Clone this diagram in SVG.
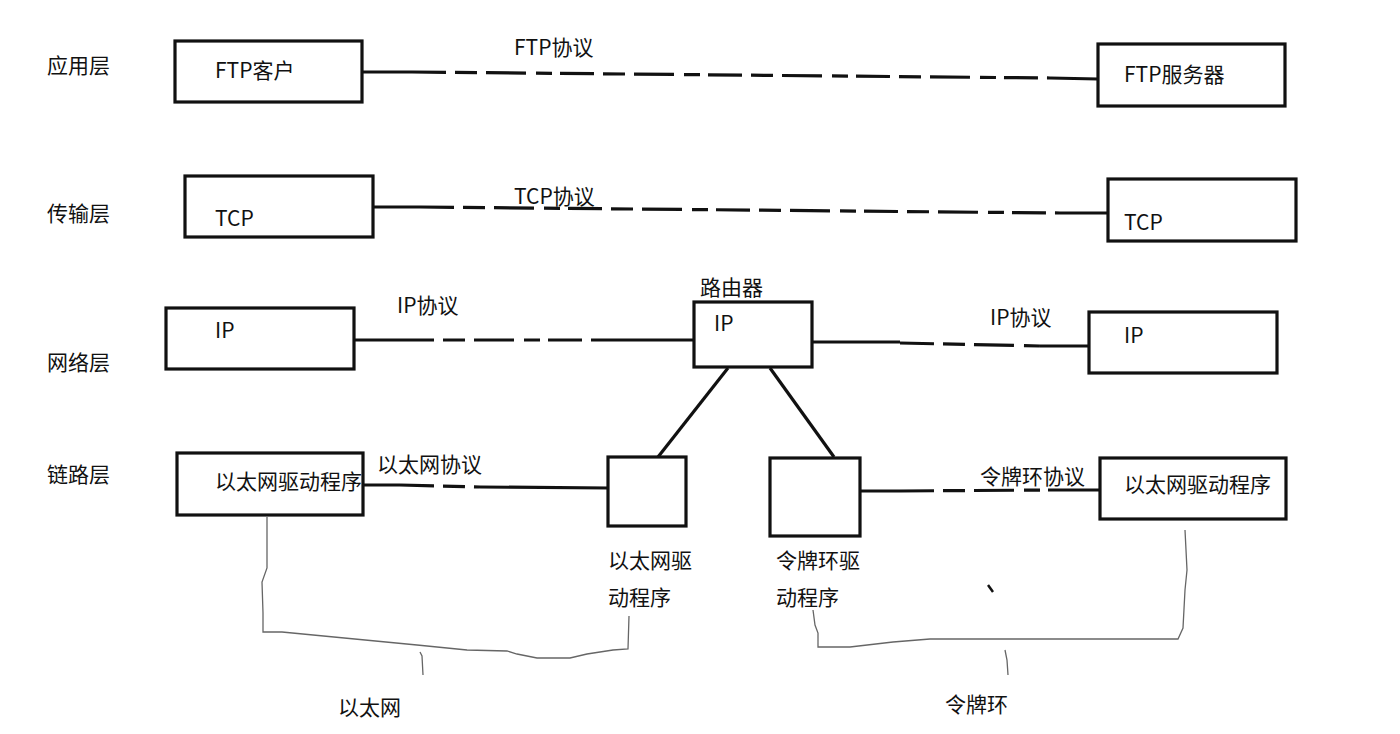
<svg xmlns="http://www.w3.org/2000/svg" width="1400" height="734" viewBox="0 0 1400 734">
<style>
text{font-family:"Noto Sans CJK SC","Microsoft YaHei",sans-serif;font-size:21px;fill:#111}
.box{fill:#fff;stroke:#111;stroke-width:3.2}
.solid{stroke:#111;stroke-width:3.2;fill:none}
.dash{stroke:#111;stroke-width:3.2;fill:none;stroke-dasharray:34 9 22 9 40 10 16 8}
.thin{stroke:#666;stroke-width:1.3;fill:none}
</style>
<rect width="1400" height="734" fill="#fff"/>
<g id="layers">
<text x="47" y="73">应用层</text>
<text x="47" y="221">传输层</text>
<text x="47" y="370">网络层</text>
<text x="47" y="482">链路层</text>
</g>
<g id="connectors">
<line class="solid" x1="362" y1="72" x2="412" y2="72"/>
<line class="dash" x1="412" y1="72" x2="1050" y2="78"/>
<line class="solid" x1="1050" y1="78" x2="1098" y2="79"/>
<line class="solid" x1="373" y1="207" x2="420" y2="207"/>
<line class="dash" x1="420" y1="207" x2="1060" y2="213"/>
<line class="solid" x1="1060" y1="213" x2="1108" y2="213"/>
<line class="solid" x1="354" y1="340" x2="400" y2="340"/>
<line class="dash" x1="400" y1="340" x2="600" y2="340"/>
<line class="solid" x1="600" y1="340" x2="694" y2="340"/>
<line class="solid" x1="812" y1="342" x2="900" y2="342"/>
<line class="dash" x1="900" y1="343" x2="1040" y2="346"/>
<line class="solid" x1="1040" y1="346" x2="1089" y2="346"/>
<line class="solid" x1="728" y1="368" x2="658" y2="457"/>
<line class="solid" x1="770" y1="368" x2="834" y2="457"/>
<line class="solid" x1="363" y1="485" x2="400" y2="485"/>
<line class="dash" x1="400" y1="485" x2="480" y2="487"/>
<line class="solid" x1="480" y1="487" x2="608" y2="488"/>
<line class="solid" x1="860" y1="491" x2="900" y2="491"/>
<line class="dash" x1="900" y1="491" x2="1050" y2="490"/>
<line class="solid" x1="1050" y1="490" x2="1100" y2="490"/>
<path class="thin" d="M267,517 L267,568 L262,582 L263,613 L263,632 L282,632 L417,645 L467,650 L507,651 L517,654 L537,658 L570,658 L587,654 L613,650 L628,649 L629,616"/>
<path class="thin" d="M420,652 L422,656 L423,675"/>
<path class="thin" d="M813,610 L815,625 L818,633 L818,647 L850,647 L893,642 L930,639 L1178,639 L1183,628 L1185,590 L1187,570 L1185,530"/>
<path class="thin" d="M1005,650 L1007,660 L1008,675"/>
<line x1="988" y1="585" x2="993" y2="592" stroke="#111" stroke-width="2.5"/>
</g>
<g id="labels">
<text x="514" y="55">FTP协议</text>
<text x="514" y="204">TCP协议</text>
<text x="397" y="313">IP协议</text>
<text x="990" y="325">IP协议</text>
<text x="377" y="472">以太网协议</text>
<text x="980" y="484">令牌环协议</text>
<text x="338" y="715">以太网</text>
<text x="945" y="712">令牌环</text>
</g>
<g id="ftp-client"><rect class="box" x="175" y="41" width="187" height="61"/><text x="215" y="78">FTP客户</text></g>
<g id="ftp-server"><rect class="box" x="1098" y="44" width="187" height="62"/><text x="1124" y="82">FTP服务器</text></g>
<g id="tcp-left"><rect class="box" x="185" y="176" width="188" height="61"/><text x="215" y="226">TCP</text></g>
<g id="tcp-right"><rect class="box" x="1108" y="179" width="188" height="62"/><text x="1124" y="230">TCP</text></g>
<g id="ip-left"><rect class="box" x="166" y="308" width="188" height="61"/><text x="215" y="338">IP</text></g>
<g id="router"><text x="700" y="295">路由器</text><rect class="box" x="694" y="302" width="118" height="65"/><text x="714" y="331">IP</text></g>
<g id="ip-right"><rect class="box" x="1089" y="312" width="188" height="61"/><text x="1124" y="343">IP</text></g>
<g id="eth-left"><rect class="box" x="177" y="453" width="186" height="62"/><text x="215" y="489">以太网驱动程序</text></g>
<g id="eth-driver"><rect class="box" x="608" y="457" width="78" height="69"/><text x="608" y="568">以太网驱</text><text x="608" y="605">动程序</text></g>
<g id="token-driver"><rect class="box" x="770" y="458" width="90" height="78"/><text x="776" y="568">令牌环驱</text><text x="776" y="605">动程序</text></g>
<g id="eth-right"><rect class="box" x="1100" y="458" width="186" height="61"/><text x="1124" y="492">以太网驱动程序</text></g>
</svg>
